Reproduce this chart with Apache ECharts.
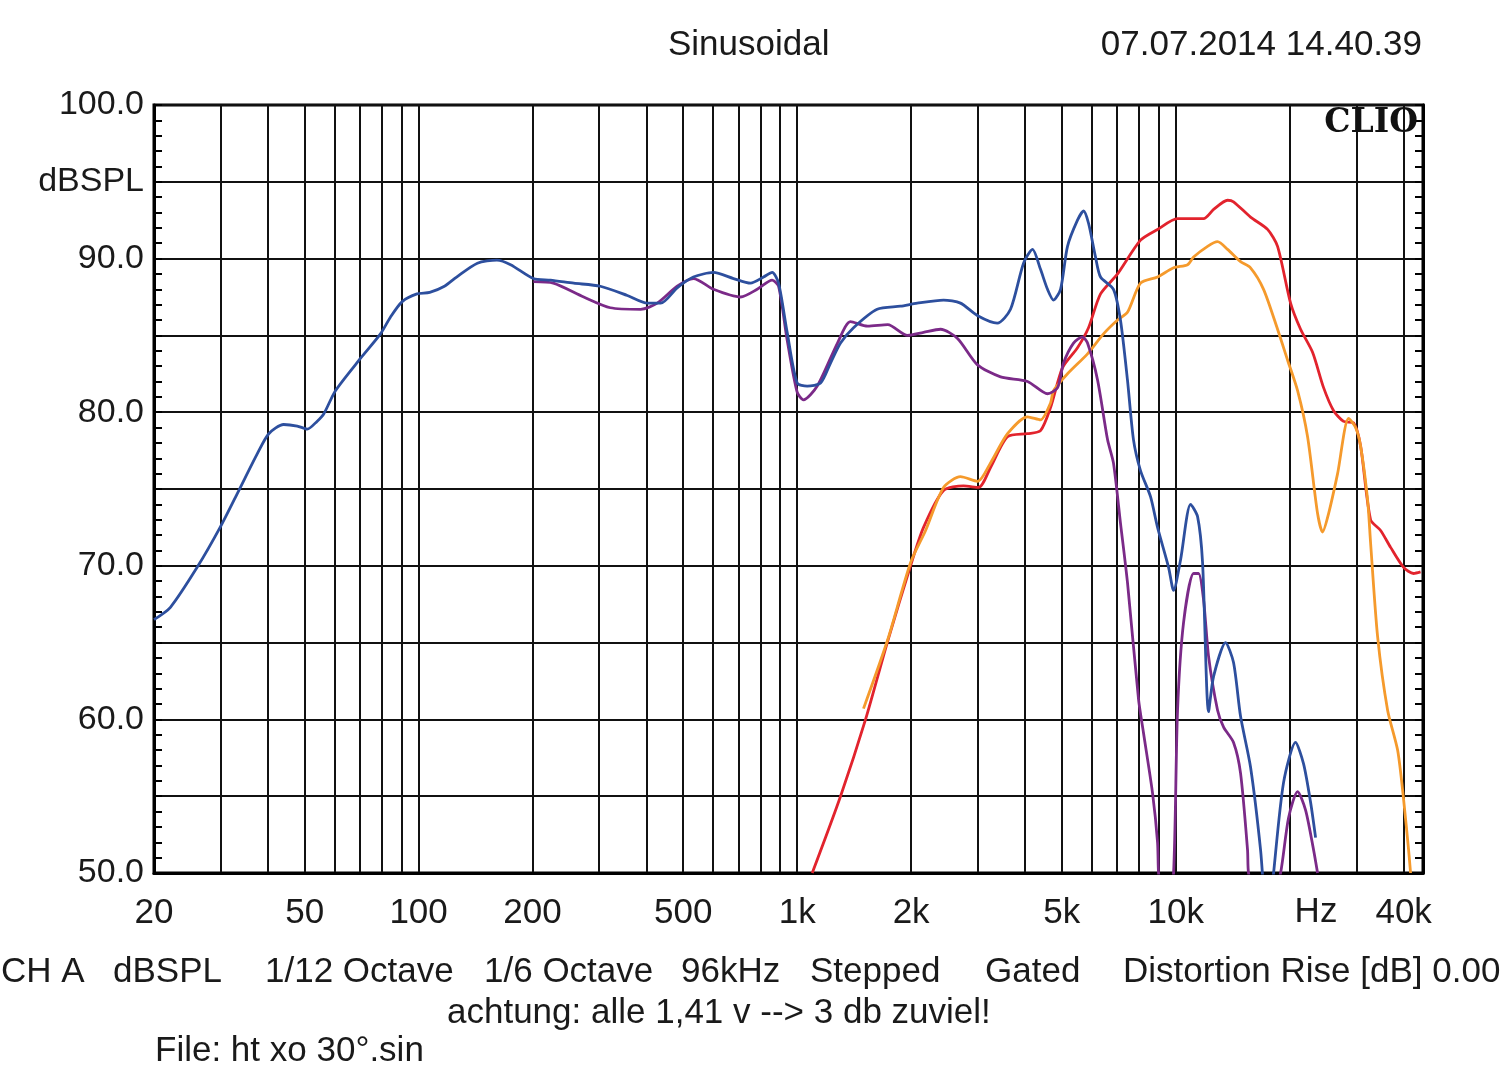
<!DOCTYPE html>
<html>
<head>
<meta charset="utf-8">
<script src="https://cdn.jsdelivr.net/npm/echarts@6/dist/echarts.min.js"></script>
<style>
html,body{margin:0;padding:0;background:#fff;}
#chart{width:1500px;height:1086px;}
</style>
</head>
<body>
<div id="chart"></div>
<script>
// Frequency (Hz) / level (dBSPL) pairs
const blueData = [[20,66.5],[22.1,67.3],[26,69.9],[29.9,72.5],[33.5,74.9],[37.5,77.3],[40.2,78.6],[44,79.2],[47.8,79.1],[50.8,78.9],[53.9,79.4],[56.2,79.9],[60.3,81.4],[70.2,83.5],[79.3,85.1],[84.3,86.2],[90.5,87.2],[99,87.7],[107,87.8],[117,88.2],[126,88.8],[143,89.7],[161,89.9],[175,89.6],[201,88.7],[223,88.6],[257,88.4],[302,88.2],[356,87.6],[402,87.1],[436,87.1],[482,88.1],[532,88.8],[601,89.1],[679,88.7],[753,88.4],[815,88.8],[859,89.1],[893,88.4],[941,85.2],[1000,81.9],[1063,81.7],[1153,81.9],[1225,83.2],[1302,84.5],[1409,85.5],[1627,86.7],[1875,86.9],[2076,87.1],[2436,87.3],[2700,87.1],[2990,86.3],[3377,85.8],[3661,86.7],[3963,89.7],[4185,90.6],[4394,89.3],[4585,88.0],[4756,87.3],[4963,88.0],[5178,90.8],[5502,92.5],[5708,93.1],[5884,92.3],[6140,90.1],[6330,88.8],[6847,88.0],[7145,86.0],[7456,82.1],[7735,78.2],[8071,76.2],[8579,74.5],[8954,72.5],[9575,69.9],[9870,68.4],[10300,70.4],[10945,74.0],[11422,73.2],[11774,70.2],[12211,60.5],[12590,62.8],[13540,65.0],[14214,63.7],[14833,60.2],[15762,56.9],[16754,51.5],[17500,46.0],[18136,50.0],[19272,55.9],[20731,58.5],[21764,57.1],[22712,54.6],[23414,52.3]];
const purpleData = [[201,88.5],[227,88.4],[273,87.5],[321,86.8],[386,86.7],[427,87.1],[482,88.2],[532,88.7],[601,88.0],[709,87.5],[784,88.0],[859,88.6],[893,88.2],[941,84.7],[1000,81.3],[1039,80.8],[1130,81.7],[1278,84.5],[1383,85.9],[1534,85.6],[1735,85.7],[1957,85.0],[2157,85.2],[2392,85.4],[2652,84.8],[2990,83.1],[3446,82.3],[4060,82.0],[4585,81.2],[4875,81.6],[5054,83.2],[5371,84.5],[5672,84.9],[5848,84.5],[6216,82.1],[6607,78.2],[6847,76.7],[7145,72.8],[7458,68.9],[7976,61.3],[8223,59.1],[8685,55.2],[8954,52.0],[9008,50.0],[9400,45.0],[9870,50.0],[10112,60.6],[10488,66.3],[11146,69.5],[11490,69.5],[11844,67.8],[12211,64.1],[12898,60.6],[13380,59.5],[14214,58.5],[14833,56.5],[15478,51.5],[15571,50.0],[17000,45.0],[18924,50.0],[19867,53.6],[20986,55.3],[22031,54.1],[23131,51.5],[23700,50.0]];
const redData = [[1096,50.0],[1302,55.0],[1516,60.0],[1730,65.0],[1993,70.0],[2157,72.5],[2436,74.9],[2751,75.2],[3014,75.1],[3242,76.4],[3595,78.4],[4060,78.6],[4394,78.8],[4670,80.3],[5024,82.9],[5502,84.2],[5884,85.5],[6330,87.7],[7021,89.0],[8073,91.2],[8954,91.9],[10112,92.6],[11844,92.6],[12590,93.2],[13708,93.8],[14214,93.7],[15762,92.7],[17484,91.9],[18579,90.8],[20110,87.1],[21371,85.4],[22987,83.9],[24580,81.6],[26124,80.1],[27758,79.4],[29503,79.3],[30786,77.8],[32714,73.0],[34772,72.3],[36949,71.2],[39988,69.9],[42494,69.5],[44340,69.6]];
const orangeData = [[1497,60.7],[1735,65.2],[1993,70.2],[2184,72.3],[2436,75.1],[2700,75.8],[2996,75.5],[3242,76.7],[3595,78.6],[4060,79.7],[4394,79.5],[4670,80.6],[4756,81.4],[5178,82.5],[5848,83.8],[6446,85.1],[7021,86.0],[7456,86.5],[8073,88.4],[8954,88.8],[9870,89.4],[10746,89.6],[11146,90.1],[12138,90.8],[12898,91.1],[13708,90.6],[14833,89.8],[15762,89.4],[17062,88.0],[18579,85.4],[19743,83.4],[20986,81.4],[22300,78.4],[23700,73.4],[24432,72.2],[25340,73.4],[26766,76.0],[28616,79.6],[29864,79.0],[30786,77.8],[32126,74.3],[32714,71.5],[34138,65.4],[36284,60.6],[38560,58.0],[39988,54.8],[41224,51.5],[41728,50.0]];

const gridFreqs = [20,30,40,50,60,70,80,90,100,200,300,400,500,600,700,800,900,1000,2000,3000,4000,5000,6000,7000,8000,9000,10000,20000,30000,40000];
const labelFreqs = [20,50,100,200,500,1000,2000,5000,10000,40000];

const FONT = '"Liberation Sans", Arial, sans-serif';
const TXT = '#1a1a1a';
const TF = '35px ' + FONT;

const chart = echarts.init(document.getElementById('chart'), null, {renderer:'canvas'});

function mkSeries(name, data, color){
  return {name, type:'line', data, showSymbol:false, smooth:0.25, clip:true,
    lineStyle:{color, width:2.8}, itemStyle:{color}, animation:false};
}

function yAxisCfg(pos, labels){
  return {
    type:'value', position:pos, min:50, max:100, interval:5,
    axisLine:{show:true, lineStyle:{color:'#000', width:3}},
    axisTick:{show:true, inside:true, length:8, lineStyle:{color:'#000', width:2}},
    minorTick:{show:true, splitNumber:5, length:8, lineStyle:{color:'#000', width:2}},
    splitLine:{show:labels, lineStyle:{color:'#111', width:2}},
    axisLabel:{show:labels, margin:10, fontSize:34, fontFamily:FONT, color:TXT,
      formatter:function(v){ if(v%10===0) return v.toFixed(1); if(v===95) return 'dBSPL'; return ''; }}
  };
}

function txt(text, x, y, align){
  return {type:'text', x, y, style:{text, font:TF, fill:TXT, align:align||'left', verticalAlign:'middle'}};
}

const option = {
  backgroundColor:'#fff',
  animation:false,
  grid:{left:154, right:77, top:105, bottom:213, show:true, borderColor:'#000', borderWidth:3, backgroundColor:'transparent'},
  xAxis:{
    type:'log', logBase:10, min:20, max:45000,
    axisLine:{show:true, lineStyle:{color:'#000', width:3}},
    axisTick:{show:false, customValues:gridFreqs},
    splitLine:{show:true, lineStyle:{color:'#111', width:2}},
    axisLabel:{show:true, customValues:labelFreqs, margin:23, fontSize:35, fontFamily:FONT, color:TXT,
      formatter:function(v){ return v>=1000 ? (v/1000)+'k' : String(v); }}
  },
  yAxis:[yAxisCfg('left', true), yAxisCfg('right', false)],
  series:[
    mkSeries('red', redData, '#e2232d'),
    mkSeries('orange', orangeData, '#f59a2c'),
    mkSeries('purple', purpleData, '#7b2a88'),
    mkSeries('blue', blueData, '#2d4f9e')
  ],
  graphic:[
    txt('Sinusoidal', 668, 45),
    txt('07.07.2014 14.40.39', 1422, 45, 'right'),
    {type:'text', x:1418, y:123, z:10, style:{text:'CLIO', font:'bold 33px "DejaVu Serif", "Liberation Serif", serif', fill:'#111', align:'right', verticalAlign:'middle'}},
    txt('Hz', 1316, 912, 'center'),
    txt('CH A', 1, 972),
    txt('dBSPL', 113, 972),
    txt('1/12 Octave', 265, 972),
    txt('1/6 Octave', 484, 972),
    txt('96kHz', 681, 972),
    txt('Stepped', 810, 972),
    txt('Gated', 985, 972),
    txt('Distortion Rise [dB] 0.00', 1123, 972),
    txt('achtung: alle 1,41 v --> 3 db zuviel!', 447, 1013),
    txt('File: ht xo 30°.sin', 155, 1051)
  ]
};
chart.setOption(option);
</script>
</body>
</html>
